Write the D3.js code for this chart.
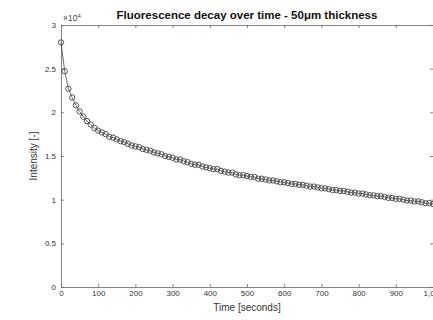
<!DOCTYPE html>
<html>
<head>
<meta charset="utf-8">
<script src="https://cdn.jsdelivr.net/npm/d3@7"></script>
<style>
  body { margin: 0; background: #fff; }
  svg { display: block; font-family: 'Liberation Sans', Arial, sans-serif; }
  .axis path, .axis line { stroke: #666; stroke-width: 0.8; }
  .axis text { fill: #333; font-size: 8px; }
</style>
</head>
<body>
<script>
// time samples (seconds)
const times = [0, 10, 20, 30, 40, 50, 60, 70, 80, 90,
  100, 110, 120, 130, 140, 150, 160, 170, 180, 190,
  200, 210, 220, 230, 240, 250, 260, 270, 280, 290,
  300, 310, 320, 330, 340, 350, 360, 370, 380, 390,
  400, 410, 420, 430, 440, 450, 460, 470, 480, 490,
  500, 510, 520, 530, 540, 550, 560, 570, 580, 590,
  600, 610, 620, 630, 640, 650, 660, 670, 680, 690,
  700, 710, 720, 730, 740, 750, 760, 770, 780, 790,
  800, 810, 820, 830, 840, 850, 860, 870, 880, 890,
  900, 910, 920, 930, 940, 950, 960, 970, 980, 990, 1000]

// intensity, in units of 10^4
const intensity = [2.80, 2.47, 2.27, 2.17, 2.08, 2.01, 1.95, 1.90, 1.86, 1.82,
  1.79, 1.77, 1.75, 1.72, 1.71, 1.69, 1.67, 1.66, 1.64, 1.62,
  1.61, 1.60, 1.58, 1.57, 1.56, 1.54, 1.53, 1.52, 1.50, 1.49,
  1.48, 1.46, 1.46, 1.44, 1.43, 1.41, 1.40, 1.40, 1.38, 1.37,
  1.36, 1.35, 1.35, 1.33, 1.32, 1.31, 1.31, 1.29, 1.28, 1.28,
  1.27, 1.26, 1.26, 1.24, 1.24, 1.23, 1.22, 1.22, 1.21, 1.20,
  1.20, 1.19, 1.18, 1.18, 1.17, 1.17, 1.16, 1.15, 1.15, 1.14,
  1.13, 1.13, 1.12, 1.11, 1.11, 1.10, 1.10, 1.09, 1.08, 1.08,
  1.07, 1.07, 1.06, 1.05, 1.05, 1.04, 1.04, 1.03, 1.02, 1.02,
  1.01, 1.01, 1.00, 0.99, 0.99, 0.98, 0.98, 0.97, 0.96, 0.96, 0.95]

const xTicks = [0, 100, 200, 300, 400, 500, 600, 700, 800, 900, 1000]
const yTicks = [0, 0.5, 1, 1.5, 2, 2.5, 3]

const title = 'Fluorescence decay over time - 50\u03bcm thickness'
const xLabel = 'Time [seconds]'
const yLabel = 'Intensity [-]'

const width = 433
const height = 320
const mLeft = 61, mRight = 433, mTop = 25, mBottom = 287

const points = times.map((t, i) => ({ t, v: intensity[i] }))

const x = d3.scaleLinear().domain([0, 1000]).range([mLeft, mRight])
const y = d3.scaleLinear().domain([0, 3]).range([mBottom, mTop])

const svg = d3.select('body')
  .append('svg')
  .attr('width', width)
  .attr('height', height)

// box with inward ticks on all four sides
svg.append('g')
  .attr('class', 'axis')
  .attr('transform', `translate(0,${mBottom})`)
  .call(d3.axisBottom(x).tickValues(xTicks).tickSizeInner(-3).tickSizeOuter(0).tickPadding(3))

svg.append('g')
  .attr('class', 'axis')
  .attr('transform', `translate(0,${mTop})`)
  .call(d3.axisTop(x).tickValues(xTicks).tickSizeInner(-3).tickSizeOuter(0).tickFormat(''))

svg.append('g')
  .attr('class', 'axis')
  .attr('transform', `translate(${mLeft},0)`)
  .call(d3.axisLeft(y).tickValues(yTicks).tickSizeInner(-3).tickSizeOuter(0).tickPadding(5)
    .tickFormat(d3.format('~g')))

svg.append('g')
  .attr('class', 'axis')
  .attr('transform', `translate(${mRight},0)`)
  .call(d3.axisRight(y).tickValues(yTicks).tickSizeInner(-3).tickSizeOuter(0).tickFormat(''))

// exponent label
const expo = svg.append('text')
  .attr('x', mLeft + 2)
  .attr('y', mTop - 4)
  .attr('font-size', 8.5)
  .attr('fill', '#444')
expo.append('tspan').text('\u00d710')
expo.append('tspan').attr('font-size', 6).attr('dy', -3).text('4')

// data
const line = d3.line().x(d => x(d.t)).y(d => y(d.v))

svg.append('path')
  .datum(points)
  .attr('fill', 'none')
  .attr('stroke', '#444')
  .attr('stroke-width', 0.8)
  .attr('d', line)

svg.append('g')
  .selectAll('circle')
  .data(points)
  .enter()
  .append('circle')
  .attr('cx', d => x(d.t))
  .attr('cy', d => y(d.v))
  .attr('r', 2.7)
  .attr('fill', 'none')
  .attr('stroke', '#444')
  .attr('stroke-width', 0.9)

// title and labels
svg.append('text')
  .attr('x', (mLeft + mRight) / 2)
  .attr('y', mTop - 6)
  .attr('text-anchor', 'middle')
  .attr('font-size', 11.5)
  .attr('font-weight', 'bold')
  .attr('fill', '#111')
  .text(title)

svg.append('text')
  .attr('x', (mLeft + mRight) / 2)
  .attr('y', 311)
  .attr('text-anchor', 'middle')
  .attr('font-size', 10)
  .attr('fill', '#333')
  .text(xLabel)

svg.append('text')
  .attr('transform', `translate(37,${(mTop + mBottom) / 2}) rotate(-90)`)
  .attr('text-anchor', 'middle')
  .attr('font-size', 10)
  .attr('fill', '#333')
  .text(yLabel)
</script>
</body>
</html>
